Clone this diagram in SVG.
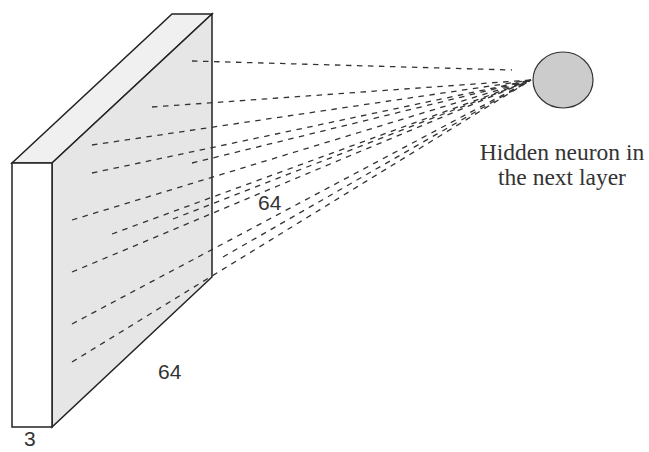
<svg xmlns="http://www.w3.org/2000/svg" width="649" height="452" viewBox="0 0 649 452">
<style>
.face{stroke:#222;stroke-width:1.5;stroke-linejoin:miter}
.link{fill:none;stroke:#333;stroke-width:1.3;stroke-dasharray:5.5 5.5}
.num{font-family:"Liberation Sans",Arial,sans-serif;font-size:21px;fill:#333}
.lbl{font-family:"Liberation Serif","Times New Roman",serif;font-size:23.5px;fill:#333;text-anchor:middle}
</style>
<rect width="649" height="452" fill="#fff"/>
<g id="volume">
<polygon class="face" points="12,163 52,163 212,14 172,14" fill="#f0f0f0"/>
<polygon class="face" points="52,163 212,14 212,277 52,427" fill="#e6e6e6"/>
<rect class="face" x="12" y="163" width="40" height="264" fill="#fff"/>
</g>
<g id="connectors">
<line class="link" x1="192" y1="61" x2="512" y2="70"/>
<line class="link" x1="152" y1="107" x2="531" y2="80"/>
<line class="link" x1="92" y1="145" x2="531" y2="80"/>
<line class="link" x1="92" y1="173" x2="531" y2="80"/>
<line class="link" x1="192" y1="163" x2="531" y2="80"/>
<line class="link" x1="72" y1="220" x2="531" y2="80"/>
<line class="link" x1="112" y1="234" x2="531" y2="80"/>
<line class="link" x1="173" y1="219" x2="531" y2="80"/>
<line class="link" x1="72" y1="272" x2="531" y2="80"/>
<line class="link" x1="72" y1="324" x2="531" y2="80"/>
<line class="link" x1="223" y1="257" x2="531" y2="80"/>
<line class="link" x1="72" y1="362" x2="531" y2="80"/>
</g>
<g id="neuron">
<ellipse cx="563" cy="80" rx="30" ry="28" fill="#cccccc" stroke="#333" stroke-width="1.2"/>
<text class="lbl" x="562" y="160">Hidden neuron in</text>
<text class="lbl" x="562" y="185">the next layer</text>
</g>
<g id="labels">
<text class="num" x="24" y="446">3</text>
<text class="num" x="258" y="210">64</text>
<text class="num" x="158" y="379">64</text>
</g>
</svg>
